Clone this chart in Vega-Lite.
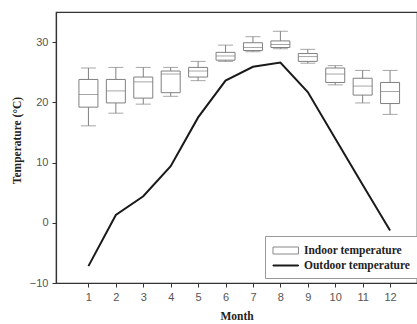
{
  "$schema": "https://vega.github.io/schema/vega-lite/v6.json",
  "width": 361,
  "height": 271,
  "autosize": "none",
  "padding": {"left": 56, "top": 12, "right": 0, "bottom": 41},
  "background": "white",
  "config": {
    "view": {"stroke": "#333", "strokeWidth": 1.2},
    "axis": {
      "grid": false,
      "domainColor": "#333",
      "domainWidth": 1.2,
      "tickColor": "#333",
      "tickSize": 4,
      "labelFont": "Liberation Sans",
      "labelFontSize": 11,
      "labelColor": "#555",
      "titleFont": "Liberation Serif",
      "titleFontWeight": "bold",
      "titleFontSize": 11.5,
      "titleColor": "#222"
    }
  },
  "datasets": {
    "indoor": [
      {"month": 1, "lower": 16.1, "q1": 19.2, "median": 21.3, "q3": 23.8, "upper": 25.7},
      {"month": 2, "lower": 18.2, "q1": 19.9, "median": 21.9, "q3": 23.8, "upper": 25.8},
      {"month": 3, "lower": 19.7, "q1": 20.7, "median": 23.4, "q3": 24.2, "upper": 25.8},
      {"month": 4, "lower": 21.0, "q1": 21.6, "median": 24.7, "q3": 25.2, "upper": 25.8},
      {"month": 5, "lower": 23.6, "q1": 24.2, "median": 25.2, "q3": 25.8, "upper": 26.8},
      {"month": 6, "lower": 26.8, "q1": 27.0, "median": 27.7, "q3": 28.3, "upper": 29.5},
      {"month": 7, "lower": 28.4, "q1": 28.6, "median": 29.1, "q3": 29.9, "upper": 30.9},
      {"month": 8, "lower": 28.9, "q1": 29.1, "median": 29.6, "q3": 30.2, "upper": 31.8},
      {"month": 9, "lower": 26.5, "q1": 26.8, "median": 27.6, "q3": 28.1, "upper": 28.8},
      {"month": 10, "lower": 22.9, "q1": 23.3, "median": 24.7, "q3": 25.7, "upper": 26.1},
      {"month": 11, "lower": 19.9, "q1": 21.2, "median": 22.7, "q3": 24.0, "upper": 25.3},
      {"month": 12, "lower": 18.0, "q1": 19.8, "median": 21.8, "q3": 23.3, "upper": 25.3}
    ],
    "outdoor": [
      {"month": 1, "temp": -7.2},
      {"month": 2, "temp": 1.3},
      {"month": 3, "temp": 4.4},
      {"month": 4, "temp": 9.4},
      {"month": 5, "temp": 17.5},
      {"month": 6, "temp": 23.6},
      {"month": 7, "temp": 25.9},
      {"month": 8, "temp": 26.6},
      {"month": 9, "temp": 21.7},
      {"month": 10, "temp": 14.0},
      {"month": 11, "temp": 6.3},
      {"month": 12, "temp": -1.3}
    ],
    "legendrows": [
      {"series": "Indoor temperature"},
      {"series": "Outdoor temperature"}
    ]
  },
  "encoding": {
    "x": {
      "field": "month",
      "type": "quantitative",
      "scale": {"domain": [0, 12.8], "nice": false, "zero": false},
      "axis": {"values": [1,2,3,4,5,6,7,8,9,10,11,12], "title": "Month", "labelPadding": 4, "titlePadding": 8}
    }
  },
  "layer": [
    {
      "data": {"name": "indoor"},
      "mark": {"type": "rule", "color": "#808080", "strokeWidth": 1},
      "encoding": {
        "y": {
          "field": "lower",
          "type": "quantitative",
          "scale": {"domain": [-10, 35], "nice": false, "zero": false},
          "axis": {"values": [-10, 0, 10, 20, 30], "title": "Temperature (°C)", "labelPadding": 4, "titlePadding": 7, "titleY": 128}
        },
        "y2": {"field": "upper"}
      }
    },
    {
      "data": {"name": "indoor"},
      "mark": {"type": "bar", "size": 19, "fill": "white", "stroke": "#808080", "strokeWidth": 1},
      "encoding": {
        "y": {"field": "q1", "type": "quantitative"},
        "y2": {"field": "q3"}
      }
    },
    {
      "data": {"name": "indoor"},
      "mark": {"type": "tick", "orient": "horizontal", "size": 15, "thickness": 1, "color": "#808080"},
      "encoding": {"y": {"field": "lower", "type": "quantitative"}}
    },
    {
      "data": {"name": "indoor"},
      "mark": {"type": "tick", "orient": "horizontal", "size": 15, "thickness": 1, "color": "#808080"},
      "encoding": {"y": {"field": "upper", "type": "quantitative"}}
    },
    {
      "data": {"name": "indoor"},
      "mark": {"type": "tick", "orient": "horizontal", "size": 19, "thickness": 1, "color": "#808080"},
      "encoding": {"y": {"field": "median", "type": "quantitative"}}
    },
    {
      "data": {"name": "outdoor"},
      "mark": {"type": "line", "color": "#1a1a1a", "strokeWidth": 2},
      "encoding": {"y": {"field": "temp", "type": "quantitative"}}
    },
    {
      "data": {"name": "legendrows"},
      "mark": {"type": "point", "opacity": 0, "filled": true, "strokeWidth": 1},
      "encoding": {
        "x": {"datum": 1, "type": "quantitative"},
        "y": {"datum": 0, "type": "quantitative"},
        "fill": {
          "field": "series",
          "type": "nominal",
          "scale": {"domain": ["Indoor temperature", "Outdoor temperature"], "range": ["white", "#1a1a1a"]},
          "legend": null
        },
        "stroke": {
          "field": "series",
          "type": "nominal",
          "scale": {"domain": ["Indoor temperature", "Outdoor temperature"], "range": ["#888888", "#1a1a1a"]},
          "legend": null
        },
        "shape": {
          "field": "series",
          "type": "nominal",
          "scale": {"domain": ["Indoor temperature", "Outdoor temperature"], "range": ["M-0.93,-0.5H2.71V0.5H-0.93Z", "M-0.93,-0.07H2.71V0.07H-0.93Z"]},
          "legend": {
            "orient": "none",
            "legendX": 209,
            "legendY": 224,
            "title": null,
            "direction": "vertical",
            "strokeColor": "#999",
            "fillColor": "white",
            "padding": 7,
            "symbolSize": 196,
            "symbolOpacity": 1,
            "symbolStrokeWidth": 1,
            "labelFont": "Liberation Serif",
            "labelFontWeight": "bold",
            "labelFontSize": 11.5,
            "labelColor": "#222",
            "labelOffset": 17,
            "rowPadding": 2,
            "encode": {
              "symbols": {
                "update": {
                  "opacity": {"value": 1},
                  "fill": {"signal": "datum.value === 'Outdoor temperature' ? '#1a1a1a' : 'white'"},
                  "stroke": {"signal": "datum.value === 'Outdoor temperature' ? '#1a1a1a' : '#888888'"}
                }
              }
            }
          }
        }
      }
    }
  ]
}
